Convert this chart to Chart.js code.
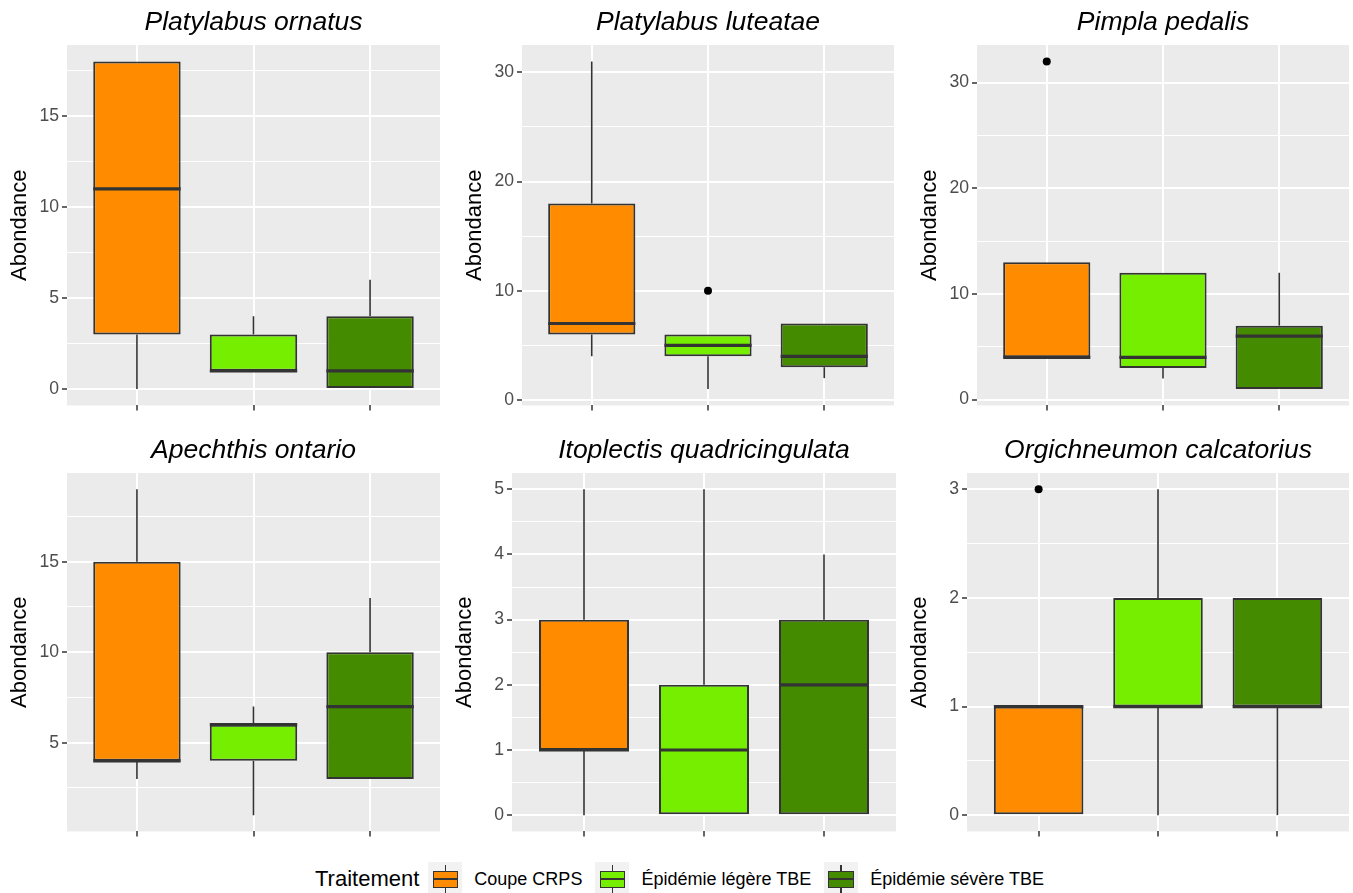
<!DOCTYPE html>
<html>
<head>
<meta charset="utf-8">
<script src="https://cdn.jsdelivr.net/npm/chart.js@4.4.1/dist/chart.umd.min.js"></script>
<style>
  body { margin: 0; background: #fff; }
  #wrap { position: relative; width: 1353px; height: 893px; overflow: hidden; background: #fff; }
  #legend { position: absolute; left: 315px; top: 862px; height: 34px; display: flex; align-items: center;
    font-family: "Liberation Sans", Arial, sans-serif; color: #000; white-space: nowrap; }
  #legend .ltitle { font-size: 22px; margin-right: 9px; }
  #legend .lab { font-size: 18px; margin-left: 12px; margin-right: 13px; }
  .key { position: relative; width: 34px; height: 34px; background: #F2F2F2; }
  .key .wh { position: absolute; left: 16.25px; top: 3.4px; width: 1.5px; height: 27.2px; background: #333; }
  .key .box { position: absolute; left: 4.25px; top: 8.5px; width: 25.5px; height: 17px; box-sizing: border-box; border: 1.5px solid #333; }
  .key .med { position: absolute; left: 4.25px; top: 15.75px; width: 25.5px; height: 2.5px; background: #333; }
</style>
</head>
<body>
<div id="wrap">
  <div id="legend"></div>
</div>
<script>
// Data
const species = ['Platylabus ornatus', 'Platylabus luteatae', 'Pimpla pedalis',
  'Apechthis ontario', 'Itoplectis quadricingulata', 'Orgichneumon calcatorius'];
const treatments = ['Coupe CRPS', 'Épidémie légère TBE', 'Épidémie sévère TBE'];
const colors = ['#FF8C00', '#76EE00', '#458B00'];

const whiskerLow  = [[0, 1, 0], [4, 1, 2], [4, 2, 1], [3, 1, 3], [0, 0, 0], [0, 0, 0]];
const q1          = [[3, 1, 0], [6, 4, 3], [4, 3, 1], [4, 4, 3], [1, 0, 0], [0, 1, 1]];
const medians     = [[11, 1, 1], [7, 5, 4], [4, 4, 6], [4, 6, 7], [1, 1, 2], [1, 1, 1]];
const q3          = [[18, 3, 4], [18, 6, 7], [13, 12, 7], [15, 6, 10], [3, 2, 3], [1, 2, 2]];
const whiskerHigh = [[18, 4, 6], [31, 6, 7], [13, 12, 12], [19, 7, 13], [5, 5, 4], [1, 3, 2]];
const outliers    = [[[], [], []], [[], [10], []], [[32], [], []], [[], [], []], [[], [], []], [[3], [], []]];

const yMajorTicks = [[0, 5, 10, 15], [0, 10, 20, 30], [0, 10, 20, 30], [5, 10, 15], [0, 1, 2, 3, 4, 5], [0, 1, 2, 3]];
const yMinorTicks = [[2.5, 7.5, 12.5, 17.5], [5, 15, 25], [5, 15, 25], [2.5, 7.5, 12.5, 17.5],
  [0.5, 1.5, 2.5, 3.5, 4.5], [0.5, 1.5, 2.5]];

// Panel frames (plot area in page pixels)
const panels = [
  { left: 67, right: 440, top: 45, bottom: 407 },
  { left: 522, right: 896, top: 45, bottom: 407 },
  { left: 977, right: 1351, top: 45, bottom: 407 },
  { left: 67, right: 440, top: 473, bottom: 833 },
  { left: 512, right: 896, top: 473, bottom: 833 },
  { left: 967, right: 1351, top: 473, bottom: 833 }
];

Chart.defaults.font.family = '"Liberation Sans", Arial, sans-serif';

const wrap = document.getElementById('wrap');

panels.forEach((p, i) => {
  const canvas = document.createElement('canvas');
  const w = p.right - p.left + 77;
  const h = p.bottom - p.top + 60;
  canvas.width = w;
  canvas.height = h;
  canvas.style.cssText = `position:absolute;left:${p.left - 75}px;top:${p.top - 48}px;width:${w}px;height:${h}px`;
  wrap.appendChild(canvas);

  // ggplot style limits: data range + 5%
  const allVals = [...whiskerLow[i], ...whiskerHigh[i], ...outliers[i].flat()];
  const lo = Math.min(...allVals), hi = Math.max(...allVals);
  const pad = (hi - lo) * 0.05;
  const majors = yMajorTicks[i];
  const yTicks = [...majors, ...yMinorTicks[i]].sort((a, b) => a - b);
  const isMajor = v => majors.includes(v);

  const boxData = treatments.map((t, j) => ({ x: j + 1, y: [q1[i][j], q3[i][j]] }));
  const outData = [];
  outliers[i].forEach((vals, j) => vals.forEach(v => outData.push({ x: j + 1, y: v })));

  const boxPlugin = {
    id: 'boxParts',
    beforeDraw(chart) {
      const { ctx, chartArea: a } = chart;
      ctx.save();
      ctx.fillStyle = '#EBEBEB';
      ctx.fillRect(a.left, a.top, a.right - a.left, a.bottom - a.top);
      ctx.restore();
    },
    beforeDatasetsDraw(chart) {
      const { ctx, scales: { x, y } } = chart;
      ctx.save();
      ctx.strokeStyle = '#333333';
      ctx.lineWidth = 1.6;
      treatments.forEach((t, j) => {
        const px = x.getPixelForValue(j + 1);
        ctx.beginPath();
        ctx.moveTo(px, y.getPixelForValue(whiskerLow[i][j]));
        ctx.lineTo(px, y.getPixelForValue(q1[i][j]));
        ctx.moveTo(px, y.getPixelForValue(q3[i][j]));
        ctx.lineTo(px, y.getPixelForValue(whiskerHigh[i][j]));
        ctx.stroke();
      });
      ctx.restore();
    },
    afterDatasetsDraw(chart) {
      const { ctx, scales: { x, y } } = chart;
      const bars = chart.getDatasetMeta(0).data;
      ctx.save();
      ctx.strokeStyle = '#333333';
      ctx.lineWidth = 3.2;
      treatments.forEach((t, j) => {
        const px = x.getPixelForValue(j + 1);
        const half = bars[j].width / 2;
        const py = y.getPixelForValue(medians[i][j]);
        ctx.beginPath();
        ctx.moveTo(px - half, py);
        ctx.lineTo(px + half, py);
        ctx.stroke();
      });
      ctx.restore();
    },
    afterDraw(chart) {
      const { ctx, chartArea: a } = chart;
      ctx.save();
      ctx.font = 'italic 26.5px "Liberation Sans", Arial, sans-serif';
      ctx.fillStyle = '#000';
      ctx.textAlign = 'center';
      ctx.textBaseline = 'alphabetic';
      ctx.fillText(species[i], (a.left + a.right) / 2, a.top - 15);
      ctx.restore();
    }
  };

  new Chart(canvas, {
    type: 'bar',
    data: {
      datasets: [
        {
          type: 'bar',
          data: boxData,
          backgroundColor: colors,
          borderColor: '#333333',
          borderWidth: 2,
          borderSkipped: false,
          barPercentage: 0.75,
          categoryPercentage: 1,
          order: 2
        },
        {
          type: 'scatter',
          data: outData,
          pointRadius: 4,
          pointBackgroundColor: '#000',
          pointBorderWidth: 0,
          order: 1
        }
      ]
    },
    options: {
      responsive: false,
      animation: false,
      layout: { padding: { top: 48, right: 2, bottom: 0, left: 0 } },
      plugins: { legend: { display: false }, title: { display: false }, tooltip: { enabled: false } },
      scales: {
        x: {
          type: 'linear',
          min: 0.4,
          max: 3.6,
          offset: false,
          border: { display: false },
          grid: { offset: false, color: '#FFFFFF', lineWidth: 2, tickColor: '#333333', tickLength: 5, tickWidth: 1.5 },
          ticks: { callback: () => '', padding: 0 },
          afterBuildTicks: s => { s.ticks = [1, 2, 3].map(v => ({ value: v })); },
          afterFit: s => { s.height = 12; }
        },
        y: {
          min: lo - pad,
          max: hi + pad,
          border: { display: false },
          grid: {
            color: '#FFFFFF',
            lineWidth: c => (c.tick && isMajor(c.tick.value) ? 2 : 1),
            tickColor: c => (c.tick && isMajor(c.tick.value) ? '#333333' : 'rgba(0,0,0,0)'),
            tickLength: 5,
            tickWidth: 1.5
          },
          ticks: {
            autoSkip: false,
            color: '#4D4D4D',
            font: { size: 17.6 },
            padding: 3,
            callback: v => (isMajor(v) ? String(v) : '')
          },
          title: {
            display: true,
            text: 'Abondance',
            color: '#000',
            font: { size: 22 },
            padding: { top: 14.8, bottom: 0 }
          },
          afterBuildTicks: s => { s.ticks = yTicks.map(v => ({ value: v })); },
          afterFit: s => { s.width = 75; }
        }
      }
    },
    plugins: [boxPlugin]
  });
});

// Legend
const legend = document.getElementById('legend');
let html = '<span class="ltitle">Traitement</span>';
treatments.forEach((t, j) => {
  html += `<span class="key"><i class="wh"></i><i class="box" style="background:${colors[j]}"></i><i class="med"></i></span>` +
    `<span class="lab">${t}</span>`;
});
legend.innerHTML = html;
</script>
</body>
</html>
